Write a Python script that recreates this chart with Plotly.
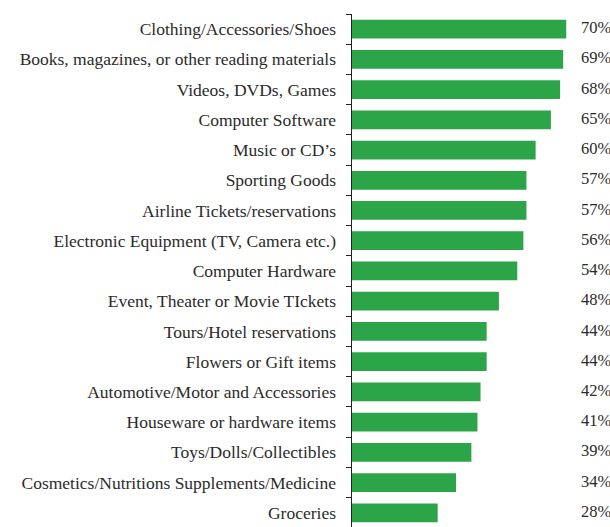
import plotly.graph_objects as go

categories = [
    "Clothing/Accessories/Shoes",
    "Books, magazines, or other reading materials",
    "Videos, DVDs, Games",
    "Computer Software",
    "Music or CD\u2019s",
    "Sporting Goods",
    "Airline Tickets/reservations",
    "Electronic Equipment (TV, Camera etc.)",
    "Computer Hardware",
    "Event, Theater or Movie TIckets",
    "Tours/Hotel reservations",
    "Flowers or Gift items",
    "Automotive/Motor and Accessories",
    "Houseware or hardware items",
    "Toys/Dolls/Collectibles",
    "Cosmetics/Nutritions Supplements/Medicine",
    "Groceries",
]
values = [70, 69, 68, 65, 60, 57, 57, 56, 54, 48, 44, 44, 42, 41, 39, 34, 28]
value_labels = [f"{v}%" for v in values]

FONT = "Liberation Serif"
TXT = "#2b2b2b"

fig = go.Figure()
fig.add_trace(go.Bar(
    x=values, y=categories, orientation="h",
    marker=dict(color="#2ca448", line=dict(width=0)),
    width=0.62, hoverinfo="skip",
))
fig.add_trace(go.Scatter(
    x=[74.8] * len(values), y=categories, mode="text",
    text=value_labels, textposition="middle right",
    textfont=dict(family=FONT, size=16.5, color=TXT),
    hoverinfo="skip", cliponaxis=False,
))

fig.update_layout(
    width=610, height=527,
    margin=dict(l=352, r=0, t=14, b=0),
    paper_bgcolor="white", plot_bgcolor="white",
    showlegend=False,
    bargap=0.38,
)
fig.update_xaxes(range=[0, 84.3], visible=False, showgrid=False, zeroline=False)
fig.update_yaxes(
    type="category", categoryorder="array", categoryarray=categories,
    range=[16.47, -0.5],
    showline=True, linecolor="#222", linewidth=1.5,
    ticks="outside", tickson="boundaries", ticklen=5, tickcolor="#222", tickwidth=1,
    tickfont=dict(family=FONT, size=17.5, color=TXT),
    ticklabelstandoff=11,
    showgrid=False, zeroline=False,
)

fig.write_html(
    "out.html",
    config={"displayModeBar": False, "staticPlot": True},
    post_script="document.body.style.margin='0';document.body.style.overflow='hidden';",
)
